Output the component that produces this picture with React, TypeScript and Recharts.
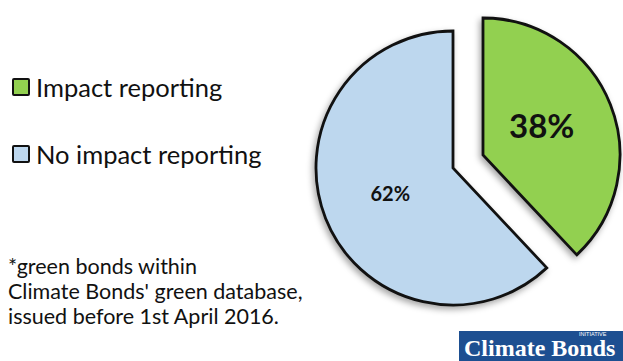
import { PieChart, Pie, Cell } from "recharts";

const categories = ["Impact reporting", "No impact reporting"];
const shares = [38, 62];
const colors = ["#92d050", "#bdd7ee"];
const footnote = [
  "*green bonds within",
  "Climate Bonds' green database,",
  "issued before 1st April 2016.",
];

const data = categories.map((name, i) => ({ name, value: shares[i] }));
const FONT = "Lato, 'Open Sans', sans-serif";

function makeLabel(idx: number, size: number, dx: number, dy: number) {
  return (p: any) => {
    if (p.index !== idx) return null;
    const rad = (Math.PI / 180) * p.midAngle;
    const r = p.outerRadius * 0.5;
    const x = p.cx + r * Math.cos(rad) + dx;
    const y = p.cy - r * Math.sin(rad) + dy;
    return (
      <text x={x} y={y} textAnchor="middle" dominantBaseline="central"
        fontFamily={FONT} fontWeight={700} fontSize={size} fill="#111">
        {`${shares[idx]}%`}
      </text>
    );
  };
}

function LegendBox() {
  return (
    <div style={{ position: "absolute", left: 12, top: 70, fontFamily: FONT }}>
      {categories.map((c, i) => (
        <div key={c} style={{ display: "flex", alignItems: "center", height: 34, marginBottom: 33 }}>
          <span style={{ width: 14, height: 14, border: "2.5px solid #111", background: colors[i], marginRight: 6, borderRadius: 2 }} />
          <span style={{ fontSize: 25.5, color: "#111" }}>{c}</span>
        </div>
      ))}
    </div>
  );
}

export default function App() {
  return (
    <div style={{ position: "relative", width: 623, height: 361, background: "#fff", overflow: "hidden" }}>
      <style>{"body{margin:0} .recharts-pie-sector path{filter:drop-shadow(-2px 3px 3px rgba(0,0,0,0.35))}"}</style>
      <PieChart width={623} height={361} margin={{ top: 0, right: 0, bottom: 0, left: 0 }}>
        <Pie data={data} dataKey="value" cx={483} cy={155} outerRadius={137}
          startAngle={90} endAngle={-270} stroke="none" label={makeLabel(0, 33, -5, -5)} labelLine={false}
          isAnimationActive={false}>
          {data.map((d, i) => (
            <Cell key={d.name} fill={i === 0 ? colors[0] : "transparent"}
              stroke={i === 0 ? "#111" : "none"} strokeWidth={2.8} />
          ))}
        </Pie>
        <Pie data={data} dataKey="value" cx={453} cy={168} outerRadius={137}
          startAngle={90} endAngle={-270} stroke="none" label={makeLabel(1, 20, 1, 0)} labelLine={false}
          isAnimationActive={false}>
          {data.map((d, i) => (
            <Cell key={d.name} fill={i === 1 ? colors[1] : "transparent"}
              stroke={i === 1 ? "#111" : "none"} strokeWidth={2.8} />
          ))}
        </Pie>
      </PieChart>
      <LegendBox />
      <div style={{ position: "absolute", left: 8, top: 254, fontFamily: FONT, fontSize: 21.5, lineHeight: "25px", color: "#111" }}>
        {footnote.map((l) => <div key={l}>{l}</div>)}
      </div>
      <div style={{ position: "absolute", left: 459, top: 331, width: 180, height: 32, background: "#1d4f91", color: "#fff" }}>
        <div style={{ position: "absolute", left: 120, top: 0, fontSize: 5.5, lineHeight: "6px", fontFamily: "Arial, sans-serif" }}>INITIATIVE</div>
        <div style={{ position: "absolute", left: 5, top: 7, fontFamily: "'Liberation Serif', 'DejaVu Serif', serif", fontWeight: 700,
          fontSize: 24, lineHeight: "20px", whiteSpace: "nowrap" }}>Climate Bonds</div>
      </div>
    </div>
  );
}
